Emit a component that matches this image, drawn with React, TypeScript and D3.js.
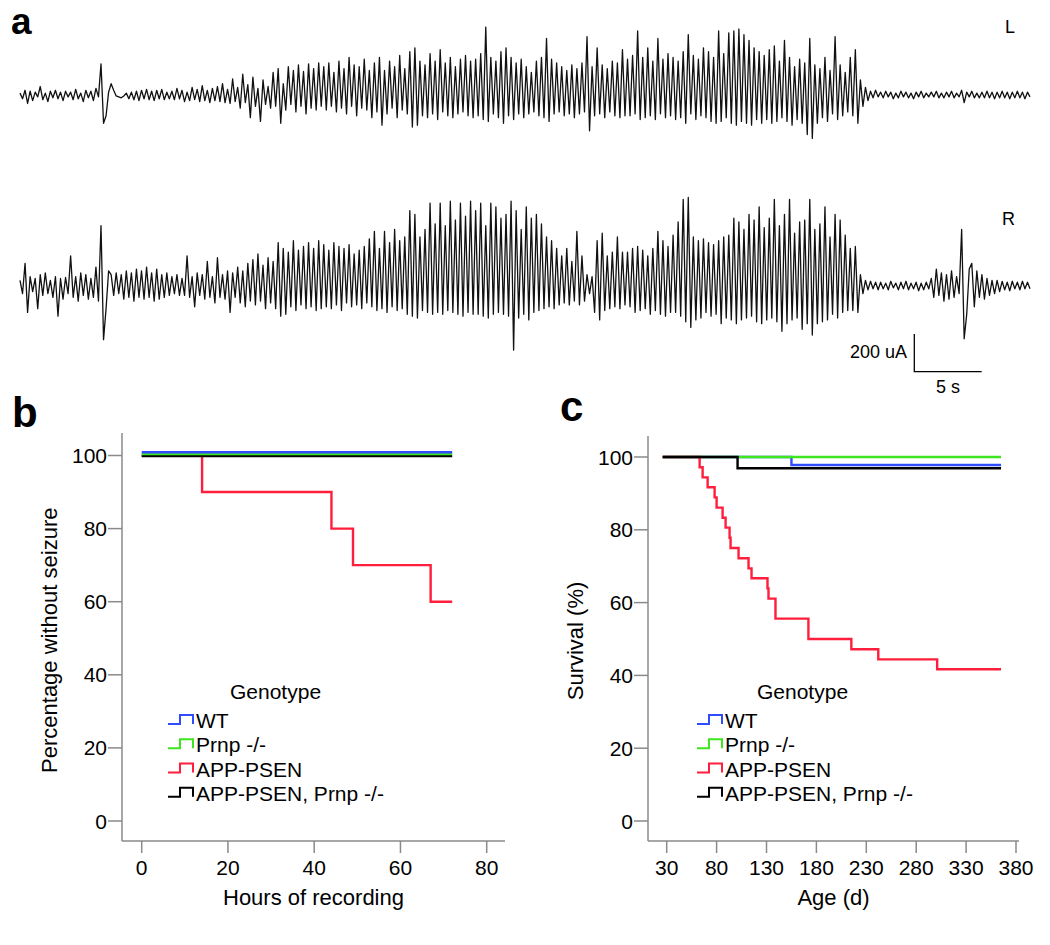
import React from 'react';
import * as d3 from 'd3';

// ---------- Panel a: EEG traces (μA), uniformly sampled over the recording ----------
const TRACE_SECONDS = 75;
const TRACE_L: number[] = [
  10,-20,25,-45,20,-30,15,-10,45,-25,10,-35,20,-15,25,-20,15,-30,20,-10,
  15,-25,30,-20,10,-35,25,-15,20,-30,35,-10,165,-150,-110,15,60,25,-5,-10,
  -15,-5,10,-20,15,-25,20,-30,25,-20,30,-25,20,-30,25,-20,30,-25,15,-20,
  20,-25,35,-20,25,-35,15,-30,40,-25,30,-35,50,-30,25,-40,35,-30,45,-35,
  60,-40,30,-45,85,-35,40,-70,110,-40,55,-120,95,-60,35,-140,80,-50,45,-70,
  120,-60,140,-150,60,-80,150,-50,130,-90,160,-60,125,-100,165,-70,140,-80,170,-60,
  150,-80,170,-60,120,-90,180,-70,140,-100,200,-60,160,-110,150,-70,190,-80,130,-120,
  170,-90,200,-160,130,-100,180,-70,150,-120,210,-80,140,-100,230,-170,250,-160,180,-110,
  160,-120,220,-100,180,-130,240,-90,170,-110,200,-120,150,-100,190,-90,210,-110,180,-120,
  190,-110,220,-130,360,-140,200,-100,180,-120,230,-150,250,-110,200,-130,170,-100,190,-120,
  150,-100,120,-90,180,-110,200,-120,300,-140,190,-100,170,-90,150,-110,130,-100,160,-120,
  140,-100,170,-90,310,-190,150,-110,250,-100,160,-120,140,-90,180,-110,170,-120,240,-110,
  190,-110,210,-100,340,-130,200,-120,250,-110,180,-130,300,-100,190,-120,220,-110,200,-130,
  180,-120,230,-150,320,-100,210,-130,190,-110,250,-120,230,-140,200,-150,340,-140,220,-120,
  330,-150,340,-160,350,-140,320,-150,290,-160,250,-130,230,-150,210,-130,240,-150,260,-140,
  180,-120,290,-140,200,-160,150,-130,190,-150,170,-210,300,-230,160,-150,140,-120,200,-140,
  130,-100,310,-130,160,-110,120,-90,200,-110,240,-150,80,-60,40,-30,20,-15,25,-10,
  15,-15,20,-10,15,-20,10,-15,20,-10,15,-15,10,-20,15,-10,20,-15,10,-10,
  15,-10,20,-15,10,-15,15,-10,20,-15,10,-10,25,-40,15,-10,20,-15,10,-15,
  15,-15,20,-15,15,-20,15,-15,20,-15,15,-20,15,-15,20,-15,15,-20,15,-10,
];
const TRACE_R: number[] = [
  30,-40,120,-140,50,-30,40,-120,60,-50,70,-40,30,-60,50,-160,40,-70,45,-40,
  160,-60,50,-80,70,-50,60,-70,40,-60,100,-80,320,-285,-120,80,60,-50,70,-40,
  60,-70,80,-60,70,-80,90,-60,80,-70,100,-60,70,-80,90,-70,60,-60,70,-50,
  50,-40,60,-50,40,-50,160,-60,50,-110,70,-50,60,-70,130,-60,50,-90,150,-60,
  60,-70,80,-140,70,-60,100,-90,80,-110,120,-80,140,-100,170,-80,110,-120,150,-90,
  130,-120,230,-160,200,-150,180,-110,240,-130,190,-100,210,-120,230,-110,200,-130,240,-120,
  220,-110,190,-120,230,-100,210,-130,200,-90,220,-110,170,-100,190,-120,210,-90,250,-110,
  290,-130,200,-120,290,-140,230,-110,300,-130,240,-120,260,-150,400,-160,380,-170,260,-130,
  300,-140,440,-150,330,-140,440,-150,320,-130,450,-140,350,-150,440,-160,370,-140,450,-150,
  400,-150,440,-160,320,-170,440,-150,420,-140,360,-150,380,-160,450,-340,400,-170,300,-150,
  420,-180,360,-140,380,-130,330,-120,260,-110,240,-120,200,-100,160,-90,200,-100,130,-80,
  290,-100,160,-80,60,-40,50,-140,240,-180,280,-130,160,-120,180,-110,260,-120,180,-100,
  180,-110,200,-140,210,-130,190,-120,160,-150,200,-130,290,-150,240,-160,210,-140,270,-140,
  340,-160,460,-190,470,-220,260,-180,240,-170,250,-140,230,-160,220,-150,240,-200,260,-170,
  270,-180,360,-200,340,-180,300,-170,380,-160,350,-190,420,-200,310,-180,360,-170,460,-190,
  320,-240,380,-200,460,-180,280,-170,340,-230,350,-200,460,-260,300,-200,330,-190,420,-180,
  260,-150,380,-170,350,-140,270,-130,200,-130,210,-140,60,-40,30,-20,25,-15,20,-20,
  20,-15,15,-20,25,-10,15,-20,20,-15,25,-20,15,-15,20,-25,15,-20,20,-15,
  40,-60,90,-50,70,-80,60,-70,80,-60,50,-40,300,-280,-150,90,120,-110,80,-60,
  60,-70,40,-50,30,-40,30,-30,25,-20,20,-25,25,-15,20,-20,25,-15,20,-15,
];
const SCALE_BAR_UA = 200;
const SCALE_BAR_S = 5;

// ---------- Panel b: seizure-free curves (hours, %) ----------
const B_X_TICKS = [0, 20, 40, 60, 80];
const B_Y_TICKS = [0, 20, 40, 60, 80, 100];
const B_WT_T = [0, 72];
const B_WT_S = [100, 100];
const B_PRNP_T = [0, 72];
const B_PRNP_S = [100, 100];
const B_APP_T = [0, 14, 44, 49, 67, 72];
const B_APP_S = [100, 90, 80, 70, 60, 60];
const B_DKO_T = [0, 72];
const B_DKO_S = [100, 100];

// ---------- Panel c: survival (days, %) ----------
const C_X_TICKS = [30, 80, 130, 180, 230, 280, 330, 380];
const C_Y_TICKS = [0, 20, 40, 60, 80, 100];
const C_WT_T = [26, 155, 365];
const C_WT_S = [100, 97.8, 97.8];
const C_PRNP_T = [26, 365];
const C_PRNP_S = [100, 100];
const C_APP_T = [26, 63, 66, 71, 78, 80, 86, 89, 93, 94, 102, 112, 115, 131, 132, 139, 172, 215, 242, 301, 365];
const C_APP_S = [100, 97.2, 94.4, 91.7, 88.9, 86.1, 83.3, 80.6, 77.8, 75.0, 72.2, 69.4, 66.7, 63.9, 61.1, 55.6, 50.0, 47.2, 44.4, 41.7, 41.7];
const C_DKO_T = [26, 101, 365];
const C_DKO_S = [100, 96.9, 96.9];

const GENOTYPES = ['WT', 'Prnp -/-', 'APP-PSEN', 'APP-PSEN, Prnp -/-'];
const COLORS = ['#2f4cff', '#3de61e', '#ff1f3d', '#000000'];

const FONT = 'Liberation Sans, Arial, Helvetica, sans-serif';
const AXIS_COLOR = '#8a8a8a';

type Series = { t: number[]; s: number[]; color: string; dy: number };

function KMPanel(props: {
  x: d3.ScaleLinear<number, number>;
  y: d3.ScaleLinear<number, number>;
  xTicks: number[];
  yTicks: number[];
  series: Series[];
  axisX: number;
  axisY: number;
  axisTop: number;
  axisRight: number;
  xTitle: string;
  yTitle: string;
  yTitleX: number;
  legendSymX: number;
  legendTitleX: number;
}) {
  const { x, y, xTicks, yTicks, series, axisX, axisY, axisTop, axisRight } = props;
  const line = (sr: Series) =>
    d3
      .line<number>()
      .curve(d3.curveStepAfter)
      .x((_, i) => x(sr.t[i]))
      .y((v) => y(v) + sr.dy)(sr.s) || '';
  const legendBase = [728, 752.3, 776.5, 800.7];
  const sx = props.legendSymX;
  const midY = (y.range()[0] + y.range()[1]) / 2;
  return (
    <g fontFamily={FONT}>
      <line x1={axisX} x2={axisX} y1={axisTop} y2={axisY} stroke={AXIS_COLOR} strokeWidth={1.5} />
      <line x1={axisX} x2={axisRight} y1={axisY} y2={axisY} stroke={AXIS_COLOR} strokeWidth={1.5} />
      {yTicks.map((v) => (
        <g key={'y' + v}>
          <line x1={axisX - 14} x2={axisX} y1={y(v)} y2={y(v)} stroke={AXIS_COLOR} strokeWidth={1.5} />
          <text x={axisX - 15} y={y(v) + 7.5} fontSize={21} textAnchor="end" fill="#000">
            {v}
          </text>
        </g>
      ))}
      {xTicks.map((v) => (
        <g key={'x' + v}>
          <line x1={x(v)} x2={x(v)} y1={axisY} y2={axisY + 12} stroke={AXIS_COLOR} strokeWidth={1.5} />
          <text x={x(v)} y={875} fontSize={21} textAnchor="middle" fill="#000">
            {v}
          </text>
        </g>
      ))}
      <text x={(axisX + axisRight) / 2} y={905} fontSize={22} textAnchor="middle" fill="#000">
        {props.xTitle}
      </text>
      <text
        transform={`translate(${props.yTitleX},${midY + 2}) rotate(-90)`}
        fontSize={22}
        textAnchor="middle"
        dominantBaseline="central"
        fill="#000"
      >
        {props.yTitle}
      </text>
      {series.map((sr, i) => (
        <path key={i} d={line(sr)} fill="none" stroke={sr.color} strokeWidth={2.4} />
      ))}
      <text x={props.legendTitleX} y={699} fontSize={21} fill="#000">
        Genotype
      </text>
      {GENOTYPES.map((g, i) => {
        const b = legendBase[i];
        return (
          <g key={g}>
            <path
              d={`M${sx},${b - 4} H${sx + 12} V${b - 13} H${sx + 25} V${b - 4}`}
              fill="none"
              stroke={COLORS[i]}
              strokeWidth={2}
            />
            <text x={sx + 28} y={b} fontSize={21} fill="#000">
              {g}
            </text>
          </g>
        );
      })}
    </g>
  );
}

export default function App() {
  const W = 1050;
  const H = 945;

  // Panel a scales
  const xT = d3.scaleLinear().domain([0, TRACE_SECONDS]).range([20, 1030]);
  const amp = d3.scaleLinear().domain([0, SCALE_BAR_UA]).range([0, 37.7]);
  const tracePath = (vals: number[], base: number) =>
    d3
      .line<number>()
      .x((_, i) => xT((i * TRACE_SECONDS) / (vals.length - 1)))
      .y((v) => base - amp(v))(vals) || '';

  const barX = 914.3;
  const barY = 371.7;
  const barW = xT(SCALE_BAR_S) - xT(0);
  const barH = amp(SCALE_BAR_UA);

  // Panel b scales
  const xb = d3.scaleLinear().domain([0, 80]).range([141.7, 486.7]);
  const yb = d3.scaleLinear().domain([0, 100]).range([821, 455.5]);
  // Panel c scales
  const xc = d3.scaleLinear().domain([30, 380]).range([666.7, 1016]);
  const yc = d3.scaleLinear().domain([0, 100]).range([821, 457]);

  const bSeries: Series[] = [
    { t: B_APP_T, s: B_APP_S, color: COLORS[2], dy: 0 },
    { t: B_DKO_T, s: B_DKO_S, color: COLORS[3], dy: 0.6 },
    { t: B_PRNP_T, s: B_PRNP_S, color: COLORS[1], dy: -1.4 },
    { t: B_WT_T, s: B_WT_S, color: COLORS[0], dy: -3.2 },
  ];
  const cSeries: Series[] = [
    { t: C_WT_T, s: C_WT_S, color: COLORS[0], dy: 0 },
    { t: C_PRNP_T, s: C_PRNP_S, color: COLORS[1], dy: 0 },
    { t: C_APP_T, s: C_APP_S, color: COLORS[2], dy: 0 },
    { t: C_DKO_T, s: C_DKO_S, color: COLORS[3], dy: 0 },
  ];

  return (
    <svg
      width={W}
      height={H}
      viewBox={`0 0 ${W} ${H}`}
      style={{ position: 'absolute', left: 0, top: 0, background: '#fff' }}
    >
      <rect x={0} y={0} width={W} height={H} fill="#fff" />
      {/* Panel letters */}
      <g fontFamily={FONT} fontWeight="bold" fill="#000">
        <text x={11} y={34} fontSize={37}>a</text>
        <text x={12} y={427} fontSize={42}>b</text>
        <text x={560} y={421} fontSize={42}>c</text>
      </g>

      {/* Panel a */}
      <path d={tracePath(TRACE_L, 95)} fill="none" stroke="#111" strokeWidth={1.3} strokeLinejoin="round" />
      <path d={tracePath(TRACE_R, 286)} fill="none" stroke="#111" strokeWidth={1.3} strokeLinejoin="round" />
      <g fontFamily={FONT} fill="#000">
        <text x={1005} y={33} fontSize={18}>L</text>
        <text x={1002} y={225} fontSize={18}>R</text>
        <text x={907} y={358} fontSize={18} textAnchor="end">{SCALE_BAR_UA} uA</text>
        <text x={barX + barW / 2} y={393} fontSize={18} textAnchor="middle">{SCALE_BAR_S} s</text>
      </g>
      <path
        d={`M${barX},${barY - barH} V${barY} H${barX + barW}`}
        fill="none"
        stroke="#000"
        strokeWidth={1.3}
      />

      {/* Panel b */}
      <KMPanel
        x={xb}
        y={yb}
        xTicks={B_X_TICKS}
        yTicks={B_Y_TICKS}
        series={bSeries}
        axisX={122}
        axisY={841}
        axisTop={433}
        axisRight={505}
        xTitle="Hours of recording"
        yTitle="Percentage without seizure"
        yTitleX={49}
        legendSymX={168}
        legendTitleX={230}
      />
      {/* Panel c */}
      <KMPanel
        x={xc}
        y={yc}
        xTicks={C_X_TICKS}
        yTicks={C_Y_TICKS}
        series={cSeries}
        axisX={648}
        axisY={841}
        axisTop={436}
        axisRight={1019}
        xTitle="Age (d)"
        yTitle="Survival (%)"
        yTitleX={575}
        legendSymX={697}
        legendTitleX={757}
      />
    </svg>
  );
}
